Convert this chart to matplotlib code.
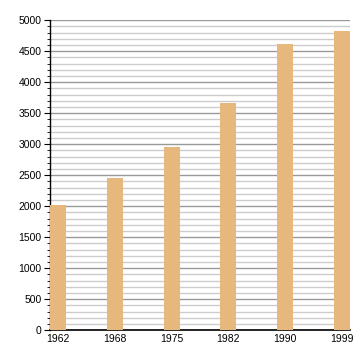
import matplotlib
matplotlib.use('Agg')
import matplotlib.pyplot as plt
from matplotlib.ticker import MultipleLocator

# data
years = ['1962', '1968', '1975', '1982', '1990', '1999']
population = [2018, 2452, 2952, 3661, 4613, 4823]

plt.rcParams['font.family'] = ['Liberation Sans', 'DejaVu Sans']

fig = plt.figure(figsize=(3.6, 3.6), dpi=100)
ax = fig.add_axes([0.139, 0.083, 0.833, 0.861])

x = list(range(len(years)))
ax.bar(x, population, width=0.28, color='#e6b87d', zorder=3)

ax.set_xlim(-0.14, len(years) - 1 + 0.14)
ax.set_ylim(0, 5000)
ax.set_xticks(x)
ax.set_xticklabels(years)
ax.yaxis.set_major_locator(MultipleLocator(500))
ax.yaxis.set_minor_locator(MultipleLocator(100))

ax.grid(which='major', axis='y', color='#999999', linewidth=1.0, zorder=0)
ax.grid(which='minor', axis='y', color='#cccccc', linewidth=1.0, zorder=0)

ax.tick_params(axis='x', length=0, labelsize=7.5, pad=3)
ax.tick_params(axis='y', which='major', length=4, labelsize=7.5, pad=2)
ax.tick_params(axis='y', which='minor', length=2)

for s in ['top', 'right']:
    ax.spines[s].set_visible(False)
ax.spines['left'].set_linewidth(1.0)
ax.spines['bottom'].set_linewidth(1.2)

plt.savefig('out.png', dpi=100)
